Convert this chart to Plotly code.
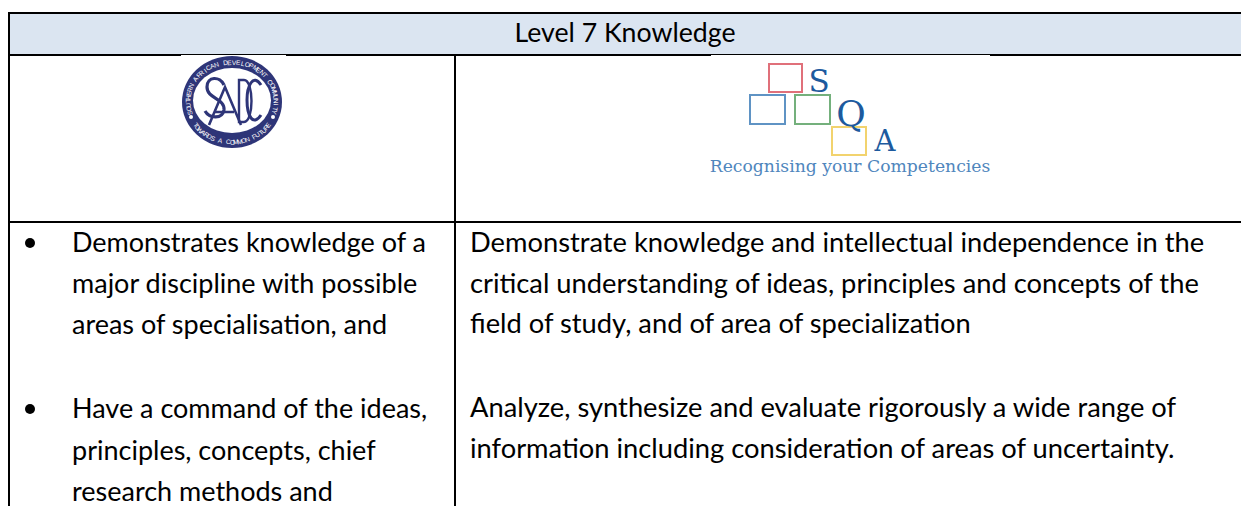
import math
import plotly.graph_objects as go

# ---- content ----
title = "Level 7 Knowledge"
left_lines = ["Demonstrates knowledge of a", "major discipline with possible", "areas of specialisation, and",
              "Have a command of the ideas,", "principles, concepts, chief", "research methods and"]
left_rows = [245, 286, 327, 411, 453, 494]
bullet_rows = [243, 409]
right_lines = ["Demonstrate knowledge and intellectual independence in the",
               "critical understanding of ideas, principles and concepts of the",
               "field of study, and of area of specialization",
               "Analyze, synthesize and evaluate rigorously a wide range of",
               "information including consideration of areas of uncertainty."]
right_rows = [245, 286, 326, 410, 451]
ring_top = "SOUTHERN AFRICAN DEVELOPMENT COMMUNITY"
ring_bottom = "TOWARDS A COMMON FUTURE"
tagline = "Recognising your Competencies"
sqa_letters = ["S", "Q", "A"]
sqa_x = [819, 851, 885]
sqa_y = [84, 117, 144]
sqa_size = [31, 36, 29]

W, H = 1241, 506
BODY = "Lato, 'Open Sans', sans-serif"
NAVY = "#2E3578"
fig = go.Figure()

def texts(x, y, t, size, color="#000000", pos="middle right", family=BODY):
    fig.add_trace(go.Scatter(x=x, y=y, text=t, mode="text", textposition=pos, cliponaxis=False,
                             textfont=dict(size=size, color=color, family=family),
                             hoverinfo="skip", showlegend=False))

shapes = []
def rect(x0, y0, x1, y1, fill=None, line=None, lw=0):
    shapes.append(dict(type="rect", layer="below", x0=x0, y0=y0, x1=x1, y1=y1, fillcolor=fill or "rgba(0,0,0,0)",
                       line=dict(color=line or "rgba(0,0,0,0)", width=lw)))

# table
rect(9, 13, W, 55, fill="#DBE5F1")
for (x0, y0, x1, y1) in [(8, 12, W, 14), (8, 54, W, 56), (8, 221, W, 223), (8, 12, 10, H), (454, 54, 456, H)]:
    rect(x0, y0, x1, y1, fill="#000000")
rect(181, 55, 286, 56, fill="#FFFFFF")
rect(711, 55, 990, 56, fill="#FFFFFF")

# SQA boxes
for (x0, y0, x1, y1, c) in [(769, 64, 802, 92, "#E0707A"), (750, 95, 785, 124, "#5F93C4"),
                            (795, 95, 830, 124, "#74B07C"), (832, 127, 866, 155, "#F2D36E")]:
    rect(x0, y0, x1, y1, fill="#FFFFFF", line=c, lw=2)

# SADC emblem
cx, cy = 232, 102
def oval(x0, y0, x1, y1, c):
    shapes.append(dict(type="circle", layer="below", x0=x0, y0=y0, x1=x1, y1=y1, fillcolor=c, line=dict(width=0)))
oval(cx-50, cy-46, cx+50, cy+46, NAVY)
oval(cx-39, cy-34, cx+39, cy+31, "#FFFFFF")
for sx in (-41, 41):
    oval(cx+sx-2, cy+13, cx+sx+2, cy+17, "#FFFFFF")
# stylised monogram of the emblem
for d, w in [("M 224 85 C 220 76, 207 76, 207 87 C 207 99, 225 98, 224 110 C 222 120, 209 118, 205 111", 3.2),
             ("M 209 125 L 225 87 L 241 125 M 214 112 L 234 112", 2.6),
             ("M 239 80 L 244 80 C 254 80, 254 122, 244 122 L 239 122 Z", 2.4),
             ("M 261 85 C 253 73, 247 86, 247 100 C 247 116, 253 127, 261 115", 3.0)]:
    shapes.append(dict(type="path", layer="above", path=d, line=dict(color=NAVY, width=w)))

annotations = []
def arc(s, a0, a1, rx, ry):
    n = len(s)
    for i, ch in enumerate(s):
        a = math.radians(a0 + (a1 - a0) * i / (n - 1))
        rot = math.degrees(a) + 90 if a1 > a0 else math.degrees(a) - 90
        annotations.append(dict(x=cx + rx*math.cos(a), y=cy + ry*math.sin(a), text=ch, showarrow=False,
                                textangle=rot, xanchor="center", yanchor="middle",
                                font=dict(size=6.5, color="#FFFFFF", family="Liberation Sans")))
arc(ring_top, 164, 376, 44.5, 40)
arc(ring_bottom, 145, 35, 44.5, 40)

texts([625], [35], [title], 26.7, pos="middle center")
texts([72]*len(left_lines), left_rows, left_lines, 27)
texts([470]*len(right_lines), right_rows, right_lines, 27.3)
fig.add_trace(go.Scatter(x=[30]*len(bullet_rows), y=bullet_rows, mode="markers",
                         marker=dict(size=10, color="#000000"), hoverinfo="skip", showlegend=False))
for ch, x, y, s in zip(sqa_letters, sqa_x, sqa_y, sqa_size):
    texts([x], [y], [ch], s, color="#1D5A9E", pos="middle center", family="DejaVu Serif")
texts([850], [168], [tagline], 17.2, color="#4F86BD", pos="middle center", family="DejaVu Serif")

fig.update_layout(width=W, height=H, margin=dict(l=0, r=0, t=0, b=0), paper_bgcolor="#FFFFFF", plot_bgcolor="#FFFFFF",
                  xaxis=dict(range=[0, W], visible=False, fixedrange=True),
                  yaxis=dict(range=[H, 0], visible=False, fixedrange=True),
                  shapes=shapes, annotations=annotations, showlegend=False)
fig.write_html("out.html", config=dict(displayModeBar=False),
               post_script="document.body.style.margin='0';document.body.style.overflow='hidden';")
